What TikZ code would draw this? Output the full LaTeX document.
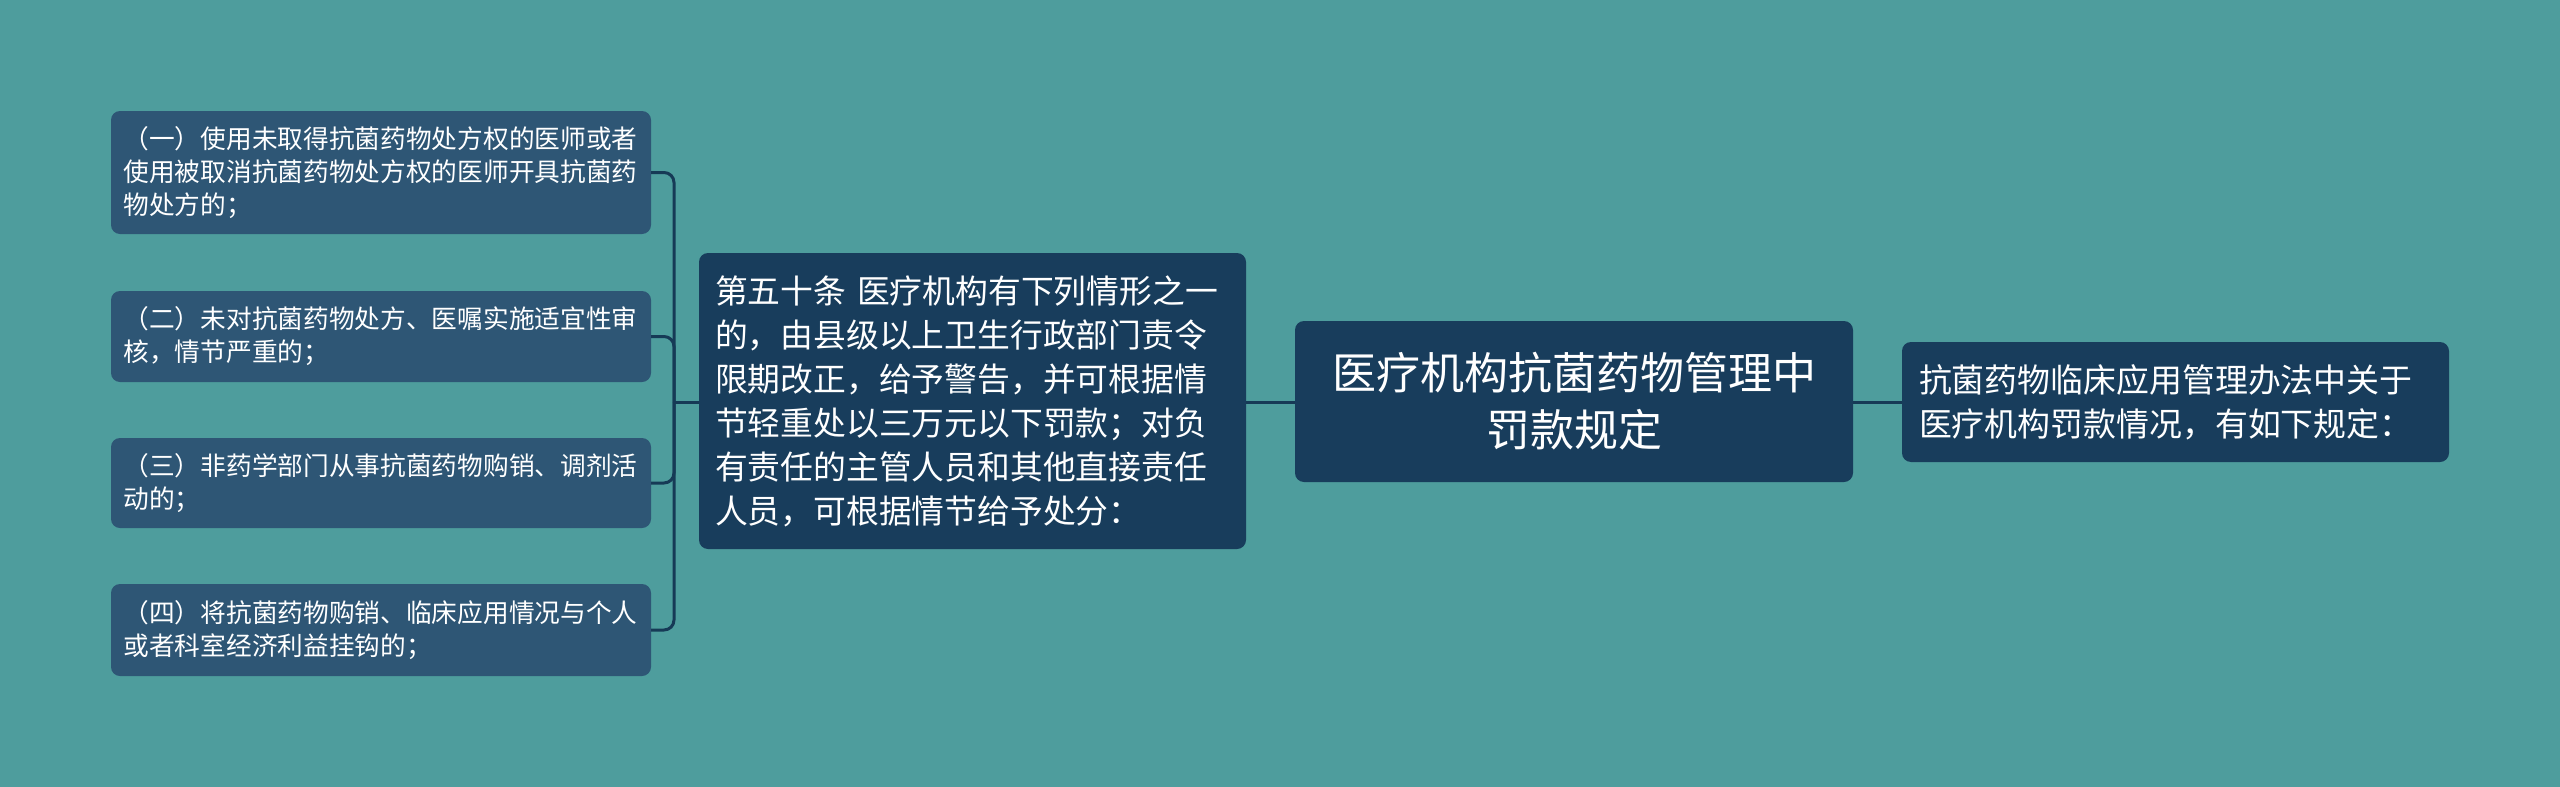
\documentclass[tikz,border=0pt]{standalone}
\usepackage{fontspec}
\setmainfont{Noto Sans CJK SC}
\definecolor{bgc}{RGB}{78,157,157}
\definecolor{leafc}{RGB}{46,86,117}
\definecolor{darkc}{RGB}{24,61,92}
\definecolor{linec}{RGB}{22,58,86}
\tikzset{
  leafbox/.style={rectangle, rounded corners=9pt, fill=leafc, text=white, inner sep=0pt,
    inner xsep=12.5pt, text width=515pt, minimum width=540pt, align=left,
    font=\fontsize{25.7}{33}\selectfont},
  midbox/.style={rectangle, rounded corners=9pt, fill=darkc, text=white, inner sep=0pt,
    inner xsep=16pt, text width=515pt, minimum width=547pt, minimum height=296pt, align=left,
    font=\fontsize{32.8}{44}\selectfont},
  mainbox/.style={rectangle, rounded corners=9pt, fill=darkc, text=white, inner sep=0pt,
    inner xsep=20pt, text width=518pt, minimum width=558pt, minimum height=161pt, align=center,
    font=\fontsize{44}{57}\selectfont},
  rightbox/.style={rectangle, rounded corners=9pt, fill=darkc, text=white, inner sep=0pt,
    inner xsep=17pt, text width=513pt, minimum width=547pt, minimum height=120pt, align=left,
    font=\fontsize{32.9}{44}\selectfont},
  conn/.style={draw=linec, line width=3pt, rounded corners=10pt}
}
\begin{document}
\begin{tikzpicture}[x=1pt,y=-1pt]
\useasboundingbox (0,0) rectangle (2560,787);
\fill[bgc] (0,0) rectangle (2560,787);
\node[leafbox, minimum height=123pt] (b1) at (381,172.5) {（一）使用未取得抗菌药物处方权的医师或者\\使用被取消抗菌药物处方权的医师开具抗菌药\\物处方的；};
\node[leafbox, minimum height=91pt] (b2) at (381,336.5) {（二）未对抗菌药物处方、医嘱实施适宜性审\\核，情节严重的；};
\node[leafbox, minimum height=90pt] (b3) at (381,483) {（三）非药学部门从事抗菌药物购销、调剂活\\动的；};
\node[leafbox, minimum height=92pt] (b4) at (381,630) {（四）将抗菌药物购销、临床应用情况与个人\\或者科室经济利益挂钩的；};
\node[midbox] (mid) at (972.5,401) {第五十条 医疗机构有下列情形之一\\的，由县级以上卫生行政部门责令\\限期改正，给予警告，并可根据情\\节轻重处以三万元以下罚款；对负\\有责任的主管人员和其他直接责任\\人员，可根据情节给予处分：};
\node[mainbox] (main) at (1574,401.5) {医疗机构抗菌药物管理中\\罚款规定};
\node[rightbox] (right) at (2175.5,402) {抗菌药物临床应用管理办法中关于\\医疗机构罚款情况，有如下规定：};
\coordinate (j) at (674,402);
\draw[conn] (b1.east) -| (j);
\draw[conn] (b2.east) -| (j);
\draw[conn] (b3.east) -| (j);
\draw[conn] (b4.east) -| (j);
\draw[conn] (j) -- (mid.west |- j);
\draw[conn] (mid.east |- j) -- (main.west |- j);
\draw[conn] (main.east |- j) -- (right.west |- j);
\end{tikzpicture}
\end{document}
